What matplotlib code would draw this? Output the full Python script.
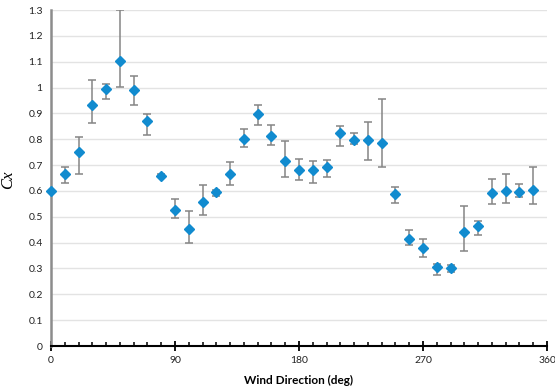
import numpy as np
import matplotlib.pyplot as plt
from matplotlib.ticker import MultipleLocator

plt.rcParams['font.family'] = ['Lato', 'DejaVu Sans']

# ── data ───────────────────────────────────────
wind_dir = np.arange(0, 360, 10)
cx = [0.600, 0.664, 0.749, 0.931, 0.995, 1.103, 0.992, 0.869, 0.659, 0.526,
      0.453, 0.556, 0.595, 0.664, 0.801, 0.899, 0.811, 0.714, 0.682, 0.682,
      0.694, 0.823, 0.797, 0.798, 0.787, 0.589, 0.414, 0.378, 0.306, 0.302,
      0.440, 0.465, 0.591, 0.601, 0.597, 0.603]
err_hi = [0.600, 0.691, 0.807, 1.028, 1.015, 1.300, 1.044, 0.896, 0.664, 0.569,
          0.522, 0.623, 0.603, 0.711, 0.839, 0.933, 0.856, 0.792, 0.725, 0.714,
          0.720, 0.852, 0.825, 0.865, 0.954, 0.614, 0.448, 0.414, 0.318, 0.315,
          0.543, 0.484, 0.645, 0.664, 0.626, 0.692]
err_lo = [0.600, 0.632, 0.665, 0.861, 0.954, 1.003, 0.931, 0.817, 0.654, 0.494,
          0.398, 0.507, 0.580, 0.623, 0.770, 0.856, 0.776, 0.653, 0.642, 0.632,
          0.655, 0.774, 0.780, 0.721, 0.692, 0.552, 0.390, 0.344, 0.276, 0.286,
          0.367, 0.431, 0.548, 0.555, 0.578, 0.548]

cx = np.array(cx)
yerr = [cx - np.array(err_lo), np.array(err_hi) - cx]

# ── plot ───────────────────────────────────────
fig = plt.figure(figsize=(5.55, 3.92), dpi=100)
ax = fig.add_axes([51 / 555, 1 - 346 / 392, 496 / 555, 336 / 392])

ax.errorbar(wind_dir, cx, yerr=yerr, fmt='none', ecolor='#858585',
            elinewidth=1.1, capsize=3, capthick=1.1, zorder=2)
ax.plot(wind_dir, cx, linestyle='none', marker='D', markersize=4.6,
        color='#118bcf', zorder=3, clip_on=False)

ax.set_xlim(0, 360)
ax.set_ylim(0, 1.3)
ax.xaxis.set_major_locator(MultipleLocator(90))
ax.xaxis.set_minor_locator(MultipleLocator(10))
ax.set_yticks(np.arange(0, 1.31, 0.1))
ax.set_yticklabels(['0'] + [f'{v:g}' for v in np.round(np.arange(0.1, 1.31, 0.1), 1)])

ax.grid(axis='y', color='#e3e3e3', linewidth=1)
ax.set_axisbelow(True)

for s in ['top', 'right']:
    ax.spines[s].set_visible(False)
ax.spines['left'].set_color('#8c8c8c')
ax.spines['left'].set_linewidth(1.8)
ax.spines['bottom'].set_color('black')
ax.spines['bottom'].set_linewidth(1.5)

ax.tick_params(axis='y', length=0, labelsize=7.5, pad=6, labelcolor='#222222')
ax.tick_params(axis='x', which='major', direction='inout', length=7, width=1.3,
               labelsize=7.5, pad=4, labelcolor='#222222')
ax.tick_params(axis='x', which='minor', direction='in', length=3, width=1.1)

ax.set_xlabel('Wind Direction (deg)', fontsize=8.5, fontweight='bold', labelpad=7)
ax.set_ylabel('Cx', fontsize=12, style='italic', family=['Liberation Serif'])
ax.yaxis.set_label_coords(-0.07, 0.494)

fig.savefig('out.png', dpi=100)
